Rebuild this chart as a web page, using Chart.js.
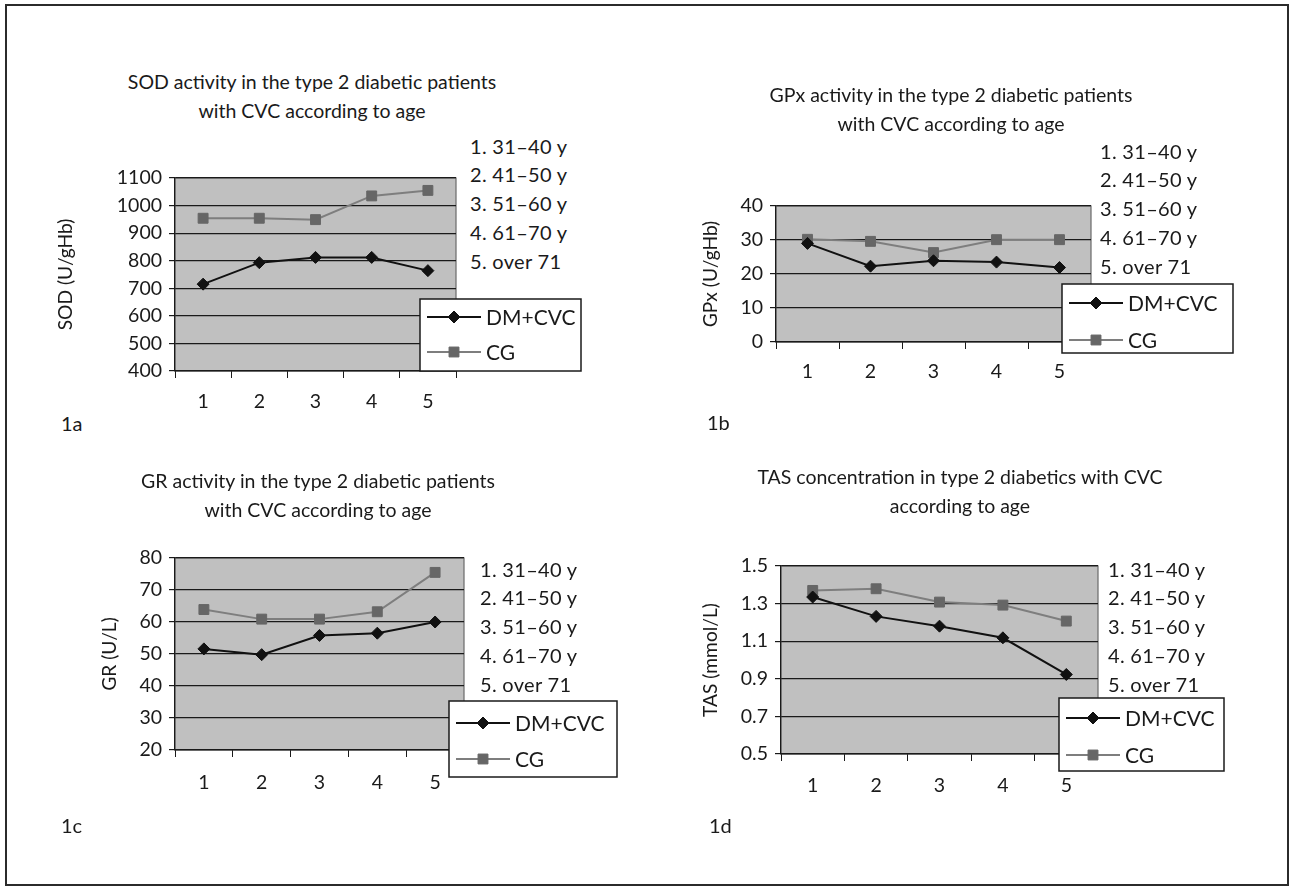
<!DOCTYPE html>
<html>
<head>
<meta charset="utf-8">
<script src="https://cdn.jsdelivr.net/npm/chart.js@4/dist/chart.umd.min.js"></script>
<style>
html,body{margin:0;padding:0;background:#fff;}
#page{position:relative;width:1291px;height:888px;overflow:hidden;font-family:Lato,"Open Sans",sans-serif;color:#1a1a1a;}
#frame{position:absolute;left:5px;top:4px;width:1284px;height:882px;border:2px solid #2b2b2b;box-sizing:border-box;}
canvas{position:absolute;left:0;top:0;}
.title{position:absolute;width:560px;text-align:center;font-size:19.5px;line-height:29px;transform:translateX(-50%);white-space:nowrap;}
.ages{position:absolute;font-size:20px;line-height:28.8px;white-space:nowrap;letter-spacing:0.3px;}
.panel{position:absolute;font-size:20px;line-height:24px;}
</style>
</head>
<body>
<div id="page"><div id="frame"></div></div>
<script>
// ---------------- data ----------------
const categories = ['1', '2', '3', '4', '5'];
const ageGroups = ['1. 31–40 y', '2. 41–50 y', '3. 51–60 y', '4. 61–70 y', '5. over 71'];
const seriesNames = ['DM+CVC', 'CG'];

const sodDM = [715, 793, 812, 812, 764];
const sodCG = [954, 954, 949, 1035, 1055];
const gpxDM = [29.0, 22.3, 23.9, 23.5, 21.9];
const gpxCG = [30.2, 29.6, 26.3, 30.1, 30.1];
const grDM = [51.6, 49.8, 55.8, 56.5, 60.0];
const grCG = [63.9, 60.9, 60.9, 63.2, 75.5];
const tasDM = [1.335, 1.232, 1.180, 1.118, 0.923];
const tasCG = [1.370, 1.379, 1.308, 1.292, 1.207];

const titles = [
  ['SOD activity in the type 2 diabetic patients', 'with CVC  according to age'],
  ['GPx activity in the type 2 diabetic patients', 'with CVC according to age'],
  ['GR activity in the type 2 diabetic patients', 'with CVC according to age'],
  ['TAS concentration in type 2 diabetics with CVC', 'according to age']
];
const yTitles = ['SOD (U/gHb)', 'GPx (U/gHb)', 'GR (U/L)', 'TAS (mmol/L)'];
const panelLabels = ['1a', '1b', '1c', '1d'];
const yMin = [400, 0, 20, 0.5];
const yMax = [1100, 40, 80, 1.5];
const yStep = [100, 10, 10, 0.2];
const yDecimals = [0, 0, 0, 1];
const seriesDM = [sodDM, gpxDM, grDM, tasDM];
const seriesCG = [sodCG, gpxCG, grCG, tasCG];

// ---------------- layout ----------------
const W = 1291, H = 888;
const layout = [
  {plot:[175,456,178,371], yTitleX:66, xLabY:402, legend:[420,299,581,371], rows:[18,53], title:[312,81], ages:[470,146], panel:[61,423]},
  {plot:[776,1091,206,342], yTitleX:711, xLabY:372, legend:[1062,284,1233,353], rows:[19,56], title:[951,94], ages:[1100,151], panel:[707,422]},
  {plot:[175,464,558,750], yTitleX:110, xLabY:783, legend:[449,701,617,777], rows:[22,58], title:[318,480], ages:[480,569], panel:[61,825]},
  {plot:[781,1098,566,754], yTitleX:711, xLabY:786, legend:[1059,698,1224,771], rows:[20,57], title:[960,476], ages:[1108,569], panel:[709,825]}
];

const FAMILY = 'Lato, "Open Sans", sans-serif';
const TICK_SIZE = 19.5;
const LEGEND_SIZE = 21;
const YTITLE_SIZE = 19.2;
Chart.defaults.font.family = FAMILY;
Chart.defaults.font.size = TICK_SIZE;
Chart.defaults.color = '#1a1a1a';

const plotBg = {
  id: 'plotBg',
  beforeDraw(chart) {
    const {ctx, chartArea: a} = chart;
    ctx.save();
    ctx.fillStyle = '#c0c0c0';
    ctx.fillRect(a.left, a.top, a.right - a.left, a.bottom - a.top);
    ctx.strokeStyle = '#6a6a6a';
    ctx.lineWidth = 1.2;
    ctx.strokeRect(a.left, a.top, a.right - a.left, a.bottom - a.top);
    ctx.restore();
  }
};

const boxLegend = {
  id: 'boxLegend',
  afterDraw(chart, args, opts) {
    const ctx = chart.ctx;
    const [l, t, r, b] = opts.rect;
    ctx.save();
    ctx.fillStyle = '#fff';
    ctx.fillRect(l, t, r - l, b - t);
    ctx.strokeStyle = '#1a1a1a';
    ctx.lineWidth = 1.5;
    ctx.strokeRect(l, t, r - l, b - t);
    chart.data.datasets.forEach((ds, i) => {
      const y = t + opts.rows[i];
      ctx.strokeStyle = ds.borderColor;
      ctx.lineWidth = ds.borderWidth;
      ctx.beginPath();
      ctx.moveTo(l + 7, y);
      ctx.lineTo(l + 61, y);
      ctx.stroke();
      ctx.fillStyle = ds.pointBackgroundColor;
      ctx.strokeStyle = ds.pointBorderColor;
      ctx.lineWidth = 1;
      Chart.helpers.drawPoint(ctx, {pointStyle: ds.pointStyle, radius: ds.pointRadius, borderWidth: 1, rotation: 0}, l + 34, y);
      ctx.fillStyle = '#1a1a1a';
      ctx.font = LEGEND_SIZE + 'px ' + FAMILY;
      ctx.textBaseline = 'middle';
      ctx.textAlign = 'left';
      ctx.fillText(ds.label, l + 66, y + 1);
    });
    ctx.restore();
  }
};

const page = document.getElementById('page');

layout.forEach((L, k) => {
  // texts
  const t = document.createElement('div');
  t.className = 'title';
  t.style.left = L.title[0] + 'px';
  t.style.top = (L.title[1] - 14.5) + 'px';
  t.innerHTML = titles[k].join('<br>');
  page.appendChild(t);

  const ag = document.createElement('div');
  ag.className = 'ages';
  ag.style.left = L.ages[0] + 'px';
  ag.style.top = (L.ages[1] - 14.4) + 'px';
  ag.innerHTML = ageGroups.join('<br>');
  page.appendChild(ag);

  const p = document.createElement('div');
  p.className = 'panel';
  p.style.left = L.panel[0] + 'px';
  p.style.top = (L.panel[1] - 12) + 'px';
  p.textContent = panelLabels[k];
  page.appendChild(p);

  // chart
  const cv = document.createElement('canvas');
  cv.width = W; cv.height = H;
  page.appendChild(cv);

  const [pl, pr, pt, pb] = L.plot;
  const padL = Math.round(L.yTitleX - YTITLE_SIZE * 1.2 / 2);
  const yWidth = pl - padL;
  const xHeight = 60;
  const xPad = L.xLabY - pb - 7 - TICK_SIZE * 1.2 / 2;

  new Chart(cv, {
    type: 'line',
    data: {
      labels: categories,
      datasets: [
        {label: seriesNames[0], data: seriesDM[k], borderColor: '#111', borderWidth: 2,
         pointStyle: 'rectRot', pointRadius: 6, pointBackgroundColor: '#111', pointBorderColor: '#111', pointBorderWidth: 1, tension: 0},
        {label: seriesNames[1], data: seriesCG[k], borderColor: '#7e7e7e', borderWidth: 2,
         pointStyle: 'rect', pointRadius: 7, pointBackgroundColor: '#666', pointBorderColor: '#666', pointBorderWidth: 1, tension: 0}
      ]
    },
    options: {
      responsive: false,
      animation: false,
      events: [],
      layout: {padding: {left: padL, top: pt, right: W - pr, bottom: H - pb - xHeight}},
      plugins: {
        legend: {display: false},
        tooltip: {enabled: false},
        title: {display: false},
        boxLegend: {rect: L.legend, rows: L.rows}
      },
      scales: {
        x: {
          type: 'category',
          offset: true,
          grid: {display: true, drawOnChartArea: false, drawTicks: true, tickLength: 7, offset: true, color: '#1a1a1a', lineWidth: 1},
          border: {display: true, color: '#1a1a1a', width: 1.2},
          ticks: {padding: xPad, maxRotation: 0, font: {size: TICK_SIZE}, color: '#1a1a1a'},
          afterFit(s) { s.height = xHeight; }
        },
        y: {
          min: yMin[k], max: yMax[k],
          grid: {color: '#1a1a1a', lineWidth: 1.2, tickLength: 6, drawTicks: true},
          border: {display: true, color: '#1a1a1a', width: 1.2},
          ticks: {stepSize: yStep[k], padding: 7, font: {size: TICK_SIZE}, color: '#1a1a1a',
                  callback: v => Number(v).toFixed(yDecimals[k])},
          title: {display: true, text: yTitles[k], font: {size: YTITLE_SIZE}, padding: 0, color: '#1a1a1a'},
          afterFit(s) { s.width = yWidth; }
        }
      }
    },
    plugins: [plotBg, boxLegend]
  });
});
</script>
</body>
</html>
